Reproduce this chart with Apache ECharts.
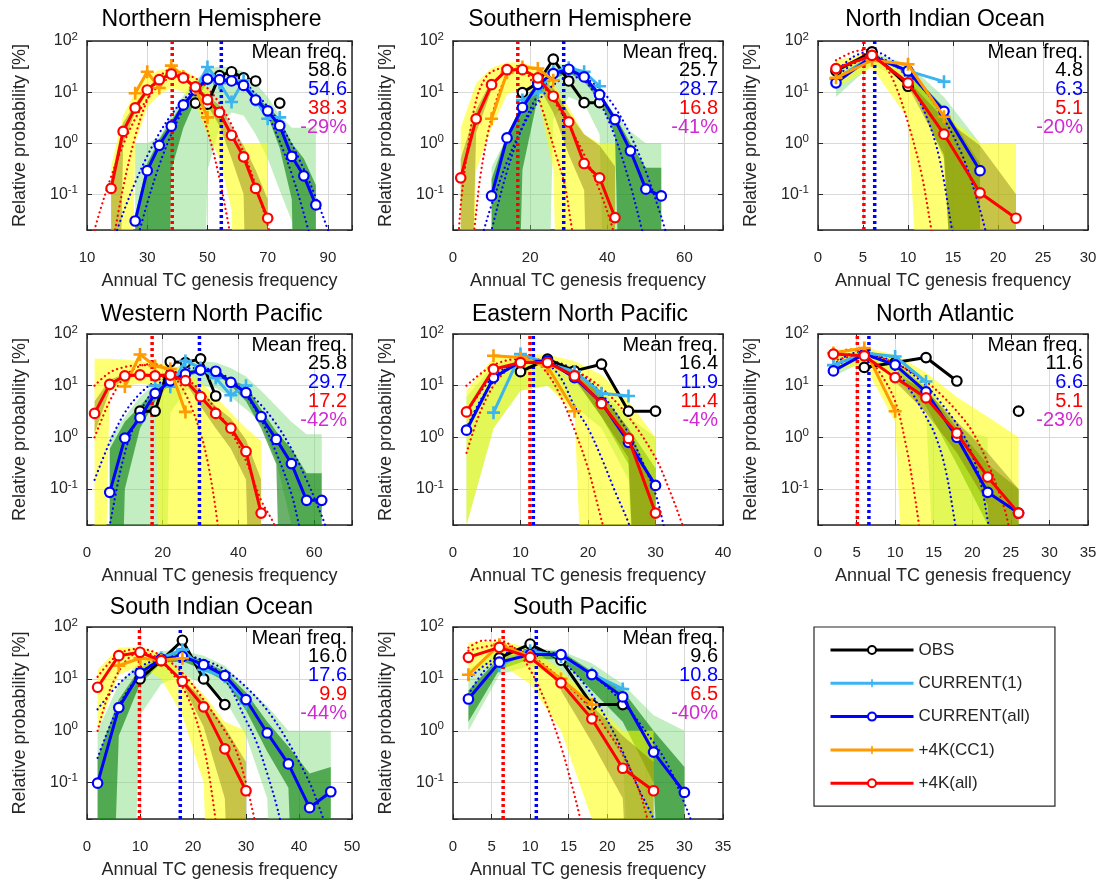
<!DOCTYPE html>
<html><head><meta charset="utf-8">
<script src="https://cdn.jsdelivr.net/npm/echarts@6/dist/echarts.min.js"></script>
<style>html,body{margin:0;padding:0;background:#fff}#c{width:1106px;height:884px}</style>
</head><body><div id="c"></div>
<script>
const n = null;
const Y_MIN = 0.02, Y_MAX = 100;
const SERIES_NAMES = ['OBS', 'CURRENT(1)', 'CURRENT(all)', '+4K(CC1)', '+4K(all)'];

// ---------- Northern Hemisphere ----------
const NH_x      = [18,22,26,30,34,38,42,46,50,54,58,62,66,70,74,78,82,86];
const NH_obs    = [n,n,n,n,n,n,n,6.1,5.8,21,25,19,16.5,n,6.1,n,n,n];
const NH_cur1   = [n,n,n,n,n,n,n,11,31,15,6.4,17,7,3.0,3.2,n,n,n];
const NH_curAll = [n,n,0.03,0.29,0.91,2.15,5.6,10.9,18,17.5,16.5,13.5,7,4.3,2.2,0.55,0.23,0.062];
const NH_cc1    = [n,n,9.5,25,12,33,20,12,3.2,n,n,n,n,n,n,n,n,n];
const NH_k4All  = [0.13,1.7,4.9,11,17.5,22.6,18.9,12.6,7.1,4.0,1.43,0.54,0.13,0.034,n,n,n,n];
const NH_y1Lo = [0,0,1.0,5,9,12,10,6,1.5,0.5,0.05,0,0,0,n,n,n,n];
const NH_y1Hi = [0.35,3.5,10,20,27,30,27,20,12,4.5,1.0,1.0,1.0,1.0,n,n,n,n];
const NH_y2Lo = [0,1.0,4,10,16.5,21,17.5,11.5,5.5,2.2,0.5,0.1,0,0,n,n,n,n];
const NH_y2Hi = [0.2,2.5,6,12,18.5,24,20,13.5,8.5,5.5,2.2,0.9,0.3,0.08,n,n,n,n];
const NH_g1Lo = [n,n,0,0,0,0,0,0,0.3,2,4,3.5,1.5,0.5,0.12,0.03,0,0];
const NH_g1Hi = [n,n,1.0,1.0,1.3,3.5,8.5,17,28,32,30,25,15,8,3.5,2.0,2.0,2.0];
const NH_g2Lo = [n,n,0,0,0,0.3,2,7,15,16,15,12.3,6.3,3.5,0.8,0.08,0,0];
const NH_g2Hi = [n,n,0.04,0.4,1.2,2.8,6.3,12,19.5,19,18,14.8,7.8,5.3,3,1.0,0.5,0.15];
const NH_dotRedN  = [[18,0.0072],[22,0.135],[26,1.35],[30,7.0],[34,19.3],[38,28],[42,21.2],[46,8.5],[50,1.8],[54,0.2],[58,0.0116],[62,0.0004]];
const NH_dotRedW  = [[10,0.0057],[14,0.041],[18,0.22],[22,0.93],[26,3.0],[30,7.3],[34,13.7],[38,19.9],[42,22],[46,18.6],[50,12],[54,6.0],[58,2.3],[62,0.66],[66,0.15],[70,0.025],[74,0.0033]];
const NH_dotBlueN = [[26,0.0092],[30,0.067],[34,0.37],[38,1.5],[42,4.6],[46,10.6],[50,18.2],[54,23.5],[58,22.7],[62,16.4],[66,8.8],[70,3.6],[74,1.08],[78,0.25],[82,0.042],[86,0.0054]];
const NH_dotBlueW = [[18,0.009],[22,0.043],[26,0.17],[30,0.56],[34,1.56],[38,3.6],[42,7.0],[46,11.5],[50,15.7],[54,18],[58,17.1],[62,13.7],[66,9.2],[70,5.2],[74,2.4],[78,0.95],[82,0.31],[86,0.086],[90,0.02],[94,0.0039]];
const NH_mean = [58.6, 54.6, 38.3];
const NH_change = -29;

// ---------- Southern Hemisphere ----------
const SH_x      = [2,6,10,14,18,22,26,30,34,38,42,46,50,54];
const SH_obs    = [n,n,n,n,9.8,15,44,16.5,6.2,6.2,n,n,n,n];
const SH_cur1   = [n,n,n,n,7,10,25,30,25,13,n,n,n,n];
const SH_curAll = [n,n,0.093,1.27,5.0,14.2,23,28,19.8,8.9,2.9,0.71,0.126,0.093];
const SH_cc1    = [n,n,3.0,24,31,29,17,n,n,n,n,n,n,n];
const SH_k4All  = [0.21,3.0,14,27.5,27.5,19,8.3,2.6,0.40,0.21,0.035,n,n,n];
const SH_y1Lo = [0,0.3,2,9,12,9,0.3,0,0,0,0,n,n,n];
const SH_y1Hi = [2,15,30,38,38,30,15,5,1.5,1.0,1.0,n,n,n];
const SH_y2Lo = [0,1.6,11,n,n,14,4,0.6,0.12,0,0,n,n,n];
const SH_y2Hi = [0.5,4.5,17,n,n,20,12,4,1.5,0.9,0.35,n,n,n];
const SH_g1Lo = [n,n,0,0,0,0,3,8,6,1.5,0,0,0,0];
const SH_g1Hi = [n,n,0.34,1.3,6.7,16.5,35,35,19,9,3.7,1.7,1.0,1.0];
const SH_g2Lo = [n,n,0,0,0.3,8,18,24,16,7,1.5,0,0,0];
const SH_g2Hi = [n,n,0.2,1.5,6,16,25,31,22,10,3.5,1.0,0.33,0.33];
const SH_dotRedN  = [[4.5,0.006],[5.5,0.02],[7,0.2],[9,1.5],[11,6],[13,15],[15,24],[17,28],[19,24],[21,13],[23,5],[25,1.6],[27,0.5],[29,0.15],[30.5,0.03],[31.5,0.01]];
const SH_dotRedW  = [[1,0.004],[2,0.06],[4,1.0],[6,6.9],[8,17],[10,25],[14,30],[18,28],[22,17],[26,7],[30,2.2],[34,0.6],[38,0.12],[41.5,0.02],[43,0.006]];
const SH_dotBlueN = [[9,0.0095],[10,0.02],[14,0.28],[18,2.1],[22,8.7],[26,19.9],[30,25],[34,17.1],[38,6.4],[42,1.33],[46,0.15],[49,0.02],[50,0.0095]];
const SH_dotBlueW = [[6,0.0059],[8,0.02],[10,0.062],[14,0.43],[18,2.05],[22,6.5],[26,13.7],[30,19.5],[34,18.5],[38,11.7],[42,5.0],[46,1.44],[50,0.28],[54,0.036],[56,0.011]];
const SH_mean = [25.7, 28.7, 16.8];
const SH_change = -41;

// ---------- North Indian Ocean ----------
const NIO_x      = [2,6,10,14,18,22];
const NIO_obs    = [26,61,13,n,n,n];
const NIO_cur1   = [18,50,26,16,n,n];
const NIO_curAll = [15.2,50,26,4.2,0.29,n];
const NIO_cc1    = [19,42,35,3.3,n,n];
const NIO_k4All  = [28.8,52.5,15.2,1.5,0.107,0.034];
const NIO_y1Lo = [12,30,3,0,0,0];
const NIO_y1Hi = [40,65,22,4,1.0,1.0];
const NIO_y2Lo = [n,n,13,0.6,0,0];
const NIO_y2Hi = [n,n,17,3,0.9,0.1];
const NIO_g1Lo = [8,35,15,1.5,0,n];
const NIO_g1Hi = [30,60,35,8,1.0,n];
const NIO_g2Lo = [n,n,20,0.5,0,n];
const NIO_g2Hi = [n,n,28,5,0.4,n];
const NIO_dotRedN  = [[2,42],[4,62],[5.5,66],[7,42],[8.5,15],[10,2.5],[11.5,0.25],[12.6,0.02],[13.2,0.005]];
const NIO_dotRedW  = [];
const NIO_dotBlueN = [[2,25],[4,50],[6,62],[8,45],[10,17],[12,3.5],[13.5,0.5],[14.9,0.02],[15.5,0.006]];
const NIO_dotBlueW = [[2,20],[6,50],[10,22],[12,10],[14,3],[16,0.6],[17.5,0.1],[18.6,0.02],[19.2,0.007]];
const NIO_mean = [4.8, 6.3, 5.1];
const NIO_change = -20;

// ---------- Western North Pacific ----------
const WNP_x      = [2,6,10,14,18,22,26,30,34,38,42,46,50,54,58,62];
const WNP_obs    = [n,n,n,3.2,3.2,29,28,33,6.3,n,n,n,n,n,n,n];
const WNP_cur1   = [n,n,n,n,10,9.5,30,22,14,6.5,10,n,n,n,n,n];
const WNP_curAll = [n,0.086,0.96,2.4,7.1,12.4,16.7,20,19,11.6,7.3,2.5,0.91,0.31,0.06,0.06];
const WNP_cc1    = [n,n,9.6,40,24,21,3.1,n,n,n,n,n,n,n,n,n];
const WNP_k4All  = [2.9,10.6,15.5,16.1,15.5,16,12.5,6.1,2.9,1.5,0.53,0.034,n,n,n,n];
const WNP_y1Lo = [0,8,10,11,10,0,0,0,0,0,0,0,n,n,n,n];
const WNP_y1Hi = [33,33,32,30,28,25,20,12,6,3,1.5,0.85,n,n,n,n];
const WNP_y2Lo = [1.2,8,14,15,14.5,15,11.5,4,1.5,0.6,0.15,0,n,n,n,n];
const WNP_y2Hi = [5,13,17,17.5,17,17.5,14,8,4,2.3,0.9,0.15,n,n,n,n];
const WNP_g1Lo = [n,0,0,0,0,3,8,10,9,6,3.5,1.9,0.35,0.02,0,0];
const WNP_g1Hi = [n,1.0,2.5,6,11,20,27,30,28,22,15,8,4,2,1.15,1.15];
const WNP_g2Lo = [n,0,0.1,1.5,5,11,15,18,17,10,5,1.5,0.3,0,0,0];
const WNP_g2Hi = [n,0.6,2,4,9,14,19,22,21,13,10,3.5,1.3,0.6,0.2,0.2];
const WNP_dotRedN  = [[2,1.0],[6,5],[10,15],[14,24],[18,26],[22,18],[26,7],[30,1.2],[32,0.3],[34,0.04],[35,0.01]];
const WNP_dotRedW  = [[2,10],[6,18],[10,23],[14,25],[18,24],[22,20],[26,14],[30,8],[34,3.5],[38,1.3],[42,0.35],[46,0.06],[49.5,0.02],[51,0.008]];
const WNP_dotBlueN = [[5,0.008],[6,0.02],[10,0.5],[14,3],[18,9],[22,16],[26,21],[30,22],[34,19],[38,13],[42,6.5],[46,2.2],[50,0.5],[54,0.08],[56,0.02],[57,0.01]];
const WNP_dotBlueW = [[2,0.15],[6,0.8],[10,3],[14,7],[18,12],[22,16],[26,18],[30,18],[34,16],[38,12],[42,8],[46,4.2],[50,1.8],[54,0.6],[58,0.15],[62,0.03],[64,0.012]];
const WNP_mean = [25.8, 29.7, 17.2];
const WNP_change = -42;

// ---------- Eastern North Pacific ----------
const ENP_x      = [2,6,10,14,18,22,26,30];
const ENP_obs    = [n,n,18.6,32.6,19.3,26,3.2,3.2];
const ENP_cur1   = [n,3.0,40.8,27,18.8,7.1,6.3,n];
const ENP_curAll = [1.37,14.3,29,30,14.3,4.7,0.8,0.117];
const ENP_cc1    = [n,37.8,35,23.5,3.2,n,n,n];
const ENP_k4All  = [3.1,20.8,28,28,15.4,4.5,0.95,0.034];
const ENP_y1Lo = [0.02,1.5,8,10,3,0,0,0];
const ENP_y1Hi = [8,35,40,40,30,16,5,1.0];
const ENP_y2Lo = [n,n,n,n,14,2.5,0.4,0];
const ENP_y2Hi = [n,n,n,n,17,7,1.5,0.1];
const ENP_g1Lo = [0.02,1.5,8,10,4,1.5,0.15,0];
const ENP_g1Hi = [6,25,35,35,22,8,2.5,1.0];
const ENP_g2Lo = [n,n,n,n,13,2.5,0.3,0];
const ENP_g2Hi = [n,n,n,n,16,7,1.5,0.25];
const ENP_dotRedN  = [[2,0.5],[4,3],[6,10],[8,20],[10,28],[12,28],[14,17],[16,6],[18,1.4],[20,0.25],[22,0.025],[23,0.008]];
const ENP_dotRedW  = [[2,10],[6,25],[10,33],[14,30],[18,20],[22,9],[26,2.5],[30,0.4],[32,0.1],[34,0.02],[35,0.008]];
const ENP_dotBlueN = [[2,1.5],[4,5],[6,12],[8,22],[10,28],[12,30],[14,26],[16,14],[18,4],[20,1.5],[22,0.4],[24,0.09],[26,0.022],[27,0.008]];
const ENP_dotBlueW = [[2,3],[6,15],[10,28],[14,30],[18,20],[22,7],[26,1.2],[28,0.35],[30,0.08],[31.2,0.02],[32,0.007]];
const ENP_mean = [16.4, 11.9, 11.4];
const ENP_change = -4;

// ---------- North Atlantic ----------
const NA_x      = [2,6,10,14,18,22,26];
const NA_obs    = [n,22.5,28,35,12.3,n,3.2];
const NA_cur1   = [25,42.7,36.7,12,n,n,n];
const NA_curAll = [19.3,40.8,25.3,7.6,1.0,0.086,0.034];
const NA_cc1    = [42.7,53.4,3.2,n,n,n,n];
const NA_k4All  = [40.8,37.8,14.3,5.8,1.2,0.17,0.034];
const NA_y1Lo = [20,25,2,0,0,0,0];
const NA_y1Hi = [50,55,40,18,6,2.5,1.0];
const NA_y2Lo = [n,n,12,3,0.5,0.05,0];
const NA_y2Hi = [n,n,17,8,2,0.5,0.1];
const NA_g1Lo = [15,30,15,3,0,0,n];
const NA_g1Hi = [35,50,35,12,1.5,1.0,n];
const NA_g2Lo = [n,n,22,4,0.3,0.02,0];
const NA_g2Hi = [n,n,29,9,1.5,0.3,0.1];
const NA_dotRedN  = [[2,38],[4,50],[6,40],[8,18],[10,5],[11.5,0.6],[12.5,0.08],[13.1,0.02],[13.5,0.008]];
const NA_dotRedW  = [[2,30],[6,40],[10,27],[14,12],[16,6.6],[18,3.2],[20,1.3],[22,0.32],[24,0.05],[24.7,0.02],[25.2,0.008]];
const NA_dotBlueN = [[2,25],[4,40],[6,45],[8,35],[10,20],[12,8],[14,2.5],[15.2,1.1],[16.5,0.25],[17.8,0.02],[18.3,0.006]];
const NA_dotBlueW = [[2,22],[6,40],[10,28],[14,10],[16,4.5],[18,1.8],[19.5,0.7],[21,0.15],[22.1,0.02],[22.6,0.007]];
const NA_mean = [11.6, 6.6, 5.1];
const NA_change = -23;

// ---------- South Indian Ocean ----------
const SIO_x      = [2,6,10,14,18,22,26,30,34,38,42,46];
const SIO_obs    = [n,n,10,22.5,55.5,10,3.2,n,n,n,n,n];
const SIO_cur1   = [n,n,n,25.3,36.6,15,11,3.4,n,n,n,n];
const SIO_curAll = [0.098,2.8,13,24.2,27,18.8,11.6,4.0,0.91,0.23,0.033,0.067];
const SIO_cc1    = [n,18,25,23,25,n,n,n,n,n,n,n];
const SIO_k4All  = [6.9,28,32.6,22.5,9.0,2.9,0.45,0.07,n,n,n,n];
const SIO_y1Lo = [1.0,12,18,10,2,0.1,0,0,n,n,n,n];
const SIO_y1Hi = [15,40,42,30,14,5,1.5,1.0,n,n,n,n];
const SIO_y2Lo = [n,n,n,n,8,1.2,0.05,0,n,n,n,n];
const SIO_y2Hi = [n,n,n,n,10,4,1.2,0.25,n,n,n,n];
const SIO_g1Lo = [0,0,2,8,12,8,4,0.8,0.05,0,0,0];
const SIO_g1Hi = [1.0,8,22,35,35,28,18,7,3,1.0,1.0,1.0];
const SIO_g2Lo = [0,0.8,8,20,22,15,9,2.5,0.4,0.08,0,0];
const SIO_g2Hi = [0.3,4,16,28,32,22,14,5.5,1.5,0.5,0.15,0.2];
const SIO_dotRedN  = [[2,1.0],[4,5],[6,14],[8,26],[10,32],[12,30],[14,22],[16,13],[18,7],[20,2.5],[22,0.5],[23,0.15],[24,0.03],[24.5,0.012]];
const SIO_dotRedW  = [[2,11],[6,30],[10,38],[14,28],[18,13],[22,4],[26,1.0],[28,0.45],[30,0.1],[31.6,0.02],[32.3,0.009]];
const SIO_dotBlueN = [[2,0.3],[6,3],[10,12],[14,24],[18,28],[22,22],[26,10],[30,1.6],[32,0.6],[34,0.15],[36,0.03],[37,0.01]];
const SIO_dotBlueW = [[2,2.6],[6,8],[10,17],[14,25],[18,27],[22,23],[26,15],[30,7],[34,2.5],[38,0.6],[42,0.1],[44,0.03],[45,0.015]];
const SIO_mean = [16.0, 17.6, 9.9];
const SIO_change = -44;

// ---------- South Pacific ----------
const SP_x      = [2,6,10,14,18,22,26,30];
const SP_obs    = [n,25.5,47,22.9,3.2,3.2,n,n];
const SP_cur1   = [n,18,35,27,12.5,6.4,n,n];
const SP_curAll = [4.1,21,29.4,29.4,12.1,4.5,0.39,0.065];
const SP_cc1    = [12,45.7,27,10,3.2,n,n,n];
const SP_k4All  = [26.1,40.6,26,8.4,1.7,0.19,0.07,n];
const SP_y1Lo = [13,20,8,1.0,0.02,0,0,n];
const SP_y1Hi = [50,55,40,15,4,1.0,1.0,n];
const SP_y2Lo = [n,n,n,6,0.6,0.05,0,n];
const SP_y2Hi = [n,n,n,10,3,0.8,0.25,n];
const SP_g1Lo = [1.0,12,18,10,3,0.3,0,0];
const SP_g1Hi = [15,40,40,35,20,8,2,1.0];
const SP_g2Lo = [1.5,15,24,24,6,1.5,0.1,0];
const SP_g2Hi = [6,26,34,34,14,6,1.0,0.2];
const SP_dotRedN  = [[2,40],[4,55],[6,55],[8,38],[10,15],[12,3.5],[14,0.5],[15.5,0.08],[16.5,0.02],[17,0.008]];
const SP_dotRedW  = [[2,35],[6,45],[10,28],[14,10],[18,2.5],[20,1.0],[22,0.35],[24,0.08],[25.2,0.02],[25.8,0.008]];
const SP_dotBlueN = [[2,5],[4,14],[6,25],[8,34],[10,36],[12,32],[14,22],[16,12],[18,5],[20,1.6],[22,0.4],[24,0.08],[26,0.02],[26.5,0.01]];
const SP_dotBlueW = [[2,10],[6,28],[10,36],[14,28],[18,12],[22,3.5],[26,0.6],[28,0.2],[30,0.04],[30.8,0.02],[31.3,0.01]];
const SP_mean = [9.6, 10.8, 6.5];
const SP_change = -40;

// ---------- assembly ----------
const PANELS = [
  {title:'Northern Hemisphere', x:NH_x, obs:NH_obs, cur1:NH_cur1, curAll:NH_curAll, cc1:NH_cc1, k4:NH_k4All,
   g1:[NH_g1Lo,NH_g1Hi], g2:[NH_g2Lo,NH_g2Hi], y1:[NH_y1Lo,NH_y1Hi], y2:[NH_y2Lo,NH_y2Hi],
   dots:[NH_dotBlueN,NH_dotBlueW,NH_dotRedN,NH_dotRedW], mean:NH_mean, change:NH_change, axis:[10,98,20,false]},
  {title:'Southern Hemisphere', x:SH_x, obs:SH_obs, cur1:SH_cur1, curAll:SH_curAll, cc1:SH_cc1, k4:SH_k4All,
   g1:[SH_g1Lo,SH_g1Hi], g2:[SH_g2Lo,SH_g2Hi], y1:[SH_y1Lo,SH_y1Hi], y2:[SH_y2Lo,SH_y2Hi],
   dots:[SH_dotBlueN,SH_dotBlueW,SH_dotRedN,SH_dotRedW], mean:SH_mean, change:SH_change, axis:[0,70,20,false]},
  {title:'North Indian Ocean', x:NIO_x, obs:NIO_obs, cur1:NIO_cur1, curAll:NIO_curAll, cc1:NIO_cc1, k4:NIO_k4All,
   g1:[NIO_g1Lo,NIO_g1Hi], g2:[NIO_g2Lo,NIO_g2Hi], y1:[NIO_y1Lo,NIO_y1Hi], y2:[NIO_y2Lo,NIO_y2Hi],
   dots:[NIO_dotBlueN,NIO_dotBlueW,NIO_dotRedN,NIO_dotRedW], mean:NIO_mean, change:NIO_change, axis:[0,30,5,true]},
  {title:'Western North Pacific', x:WNP_x, obs:WNP_obs, cur1:WNP_cur1, curAll:WNP_curAll, cc1:WNP_cc1, k4:WNP_k4All,
   g1:[WNP_g1Lo,WNP_g1Hi], g2:[WNP_g2Lo,WNP_g2Hi], y1:[WNP_y1Lo,WNP_y1Hi], y2:[WNP_y2Lo,WNP_y2Hi],
   dots:[WNP_dotBlueN,WNP_dotBlueW,WNP_dotRedN,WNP_dotRedW], mean:WNP_mean, change:WNP_change, axis:[0,70,20,false]},
  {title:'Eastern North Pacific', x:ENP_x, obs:ENP_obs, cur1:ENP_cur1, curAll:ENP_curAll, cc1:ENP_cc1, k4:ENP_k4All,
   g1:[ENP_g1Lo,ENP_g1Hi], g2:[ENP_g2Lo,ENP_g2Hi], y1:[ENP_y1Lo,ENP_y1Hi], y2:[ENP_y2Lo,ENP_y2Hi],
   dots:[ENP_dotBlueN,ENP_dotBlueW,ENP_dotRedN,ENP_dotRedW], mean:ENP_mean, change:ENP_change, axis:[0,40,10,true]},
  {title:'North Atlantic', x:NA_x, obs:NA_obs, cur1:NA_cur1, curAll:NA_curAll, cc1:NA_cc1, k4:NA_k4All,
   g1:[NA_g1Lo,NA_g1Hi], g2:[NA_g2Lo,NA_g2Hi], y1:[NA_y1Lo,NA_y1Hi], y2:[NA_y2Lo,NA_y2Hi],
   dots:[NA_dotBlueN,NA_dotBlueW,NA_dotRedN,NA_dotRedW], mean:NA_mean, change:NA_change, axis:[0,35,5,true]},
  {title:'South Indian Ocean', x:SIO_x, obs:SIO_obs, cur1:SIO_cur1, curAll:SIO_curAll, cc1:SIO_cc1, k4:SIO_k4All,
   g1:[SIO_g1Lo,SIO_g1Hi], g2:[SIO_g2Lo,SIO_g2Hi], y1:[SIO_y1Lo,SIO_y1Hi], y2:[SIO_y2Lo,SIO_y2Hi],
   dots:[SIO_dotBlueN,SIO_dotBlueW,SIO_dotRedN,SIO_dotRedW], mean:SIO_mean, change:SIO_change, axis:[0,50,10,true]},
  {title:'South Pacific', x:SP_x, obs:SP_obs, cur1:SP_cur1, curAll:SP_curAll, cc1:SP_cc1, k4:SP_k4All,
   g1:[SP_g1Lo,SP_g1Hi], g2:[SP_g2Lo,SP_g2Hi], y1:[SP_y1Lo,SP_y1Hi], y2:[SP_y2Lo,SP_y2Hi],
   dots:[SP_dotBlueN,SP_dotBlueW,SP_dotRedN,SP_dotRedW], mean:SP_mean, change:SP_change, axis:[0,35,5,true]}
];

const FONT = "'Liberation Sans', Arial, Helvetica, sans-serif";
const INK = '#262626';
const C_OBS = '#000000', C_CUR1 = '#3cb4f0', C_CUR = '#0000ff', C_CC1 = '#ff9a00', C_K4 = '#ff0000', C_CHG = '#d22ad2';
const BAND_G1 = 'rgba(110,215,110,0.42)', BAND_G2 = 'rgba(0,120,0,0.58)';
const BAND_Y1 = 'rgba(255,255,0,0.55)', BAND_Y2 = 'rgba(110,100,0,0.38)';
const PLUS = 'path://M4,0H6V4H10V6H6V10H4V6H0V4H4Z';
const ZERO = 1e-12;

const COL_LEFT = [87, 453, 818], COL_W = [265, 270, 270];
const ROW_TOP = [41, 334, 627], ROW_H = [189, 191, 192];

function clipBottom(pts, yb) {
  const out = [];
  for (let i = 0; i < pts.length; i++) {
    const a = pts[i], b = pts[(i + 1) % pts.length];
    const ain = a[1] <= yb, bin = b[1] <= yb;
    if (ain) out.push(a);
    if (ain !== bin) {
      const t = (yb - a[1]) / (b[1] - a[1]);
      out.push([a[0] + t * (b[0] - a[0]), yb]);
    }
  }
  return out;
}

function bandSeries(ai, xs, lo, hi, color) {
  return {
    type: 'custom', xAxisIndex: ai, yAxisIndex: ai, silent: true, z: 1,
    data: [[xs[0], 1]],
    renderItem: function (params, api) {
      const cs = params.coordSys;
      const yb = cs.y + cs.height;
      const segs = []; let cur = [];
      for (let i = 0; i < xs.length; i++) {
        if (lo[i] == null || hi[i] == null) { if (cur.length) segs.push(cur); cur = []; }
        else cur.push(i);
      }
      if (cur.length) segs.push(cur);
      const children = [];
      segs.forEach(s => {
        if (s.length < 2) return;
        const pts = [];
        s.forEach(i => pts.push(api.coord([xs[i], hi[i] > 0 ? hi[i] : ZERO])));
        s.slice().reverse().forEach(i => pts.push(api.coord([xs[i], lo[i] > 0 ? lo[i] : ZERO])));
        const cl = clipBottom(pts, yb);
        if (cl.length > 2) children.push({type: 'polygon', shape: {points: cl}, style: {fill: color}});
      });
      return {type: 'group', children};
    }
  };
}

function lineSeries(ai, name, xs, ys, color, plus, z) {
  return {
    type: 'line', name, xAxisIndex: ai, yAxisIndex: ai, z,
    data: xs.map((x, k) => [x, ys[k] == null ? '-' : ys[k]]),
    connectNulls: false, showAllSymbol: true,
    symbol: plus ? PLUS : 'circle', symbolSize: plus ? 13 : 9.5,
    lineStyle: {color, width: 3},
    itemStyle: plus ? {color, borderWidth: 0} : {color: '#fff', borderColor: color, borderWidth: 2.2},
    emphasis: {disabled: true}, silent: true
  };
}

function dotSeries(ai, pts, color) {
  return {
    type: 'line', xAxisIndex: ai, yAxisIndex: ai, z: 3, silent: true,
    data: pts, smooth: 0.35, symbol: 'none',
    lineStyle: {color, width: 2.2, type: [0.1, 4.6], cap: 'round'}
  };
}

function vSeries(ai, m, color) {
  return {
    type: 'line', xAxisIndex: ai, yAxisIndex: ai, z: 4, silent: true,
    data: [[m, Y_MIN], [m, Y_MAX]], symbol: 'none',
    lineStyle: {color, width: 3.5, type: [3, 3]}
  };
}

function yFmt(v) {
  const e = Math.log10(v), r = Math.round(e);
  if (Math.abs(e - r) > 1e-6) return '';
  return '10{s|' + r + '}';
}

const grids = [], xAxes = [], yAxes = [], series = [], graphics = [];
PANELS.forEach((p, i) => {
  const r = Math.floor(i / 3), c = i % 3;
  const L = COL_LEFT[c], T = ROW_TOP[r], W = COL_W[c], H = ROW_H[r];
  grids.push({left: L, top: T, width: W, height: H, containLabel: false});
  const [xmin, xmax, xint, showMax] = p.axis;
  const tick = {show: true, inside: true, length: 5, lineStyle: {color: INK, width: 1}};
  const line = {show: true, onZero: false, lineStyle: {color: INK, width: 1.5}};
  const xFmt = v => ((!showMax && v > xmax - 1e-9) || (v - xmin) % xint > 1e-9 ? '' : String(v));
  xAxes.push({gridIndex: i, type: 'value', position: 'bottom', min: xmin, max: xmax, interval: xint,
    axisLine: line, axisTick: tick,
    axisLabel: {fontSize: 15, color: INK, fontFamily: FONT, margin: 20, formatter: xFmt},
    splitLine: {show: true, lineStyle: {color: '#d9d9d9', width: 1}},
    name: 'Annual TC genesis frequency', nameLocation: 'middle', nameGap: 42,
    nameTextStyle: {fontSize: 18, color: INK, fontFamily: FONT}});
  xAxes.push({gridIndex: i, type: 'value', position: 'top', min: xmin, max: xmax, interval: xint,
    axisLine: line, axisTick: tick, axisLabel: {show: false}, splitLine: {show: false}});
  yAxes.push({gridIndex: i, type: 'log', logBase: 10, min: Y_MIN, max: Y_MAX, position: 'left',
    axisLine: line, axisTick: tick,
    axisLabel: {fontSize: 16, color: INK, fontFamily: FONT, margin: 9, formatter: yFmt,
      rich: {s: {fontSize: 11.5, color: INK, fontFamily: FONT, padding: [0, 0, 9, 0]}}},
    splitLine: {show: true, lineStyle: {color: '#d9d9d9', width: 1}},
    name: 'Relative probability [%]', nameLocation: 'middle', nameGap: 58,
    nameTextStyle: {fontSize: 18, color: INK, fontFamily: FONT}});
  yAxes.push({gridIndex: i, type: 'log', logBase: 10, min: Y_MIN, max: Y_MAX, position: 'right',
    axisLine: line, axisTick: tick, axisLabel: {show: false}, splitLine: {show: false}});

  const ai = 2 * i;
  series.push(bandSeries(ai, p.x, p.g1[0], p.g1[1], BAND_G1));
  series.push(bandSeries(ai, p.x, p.g2[0], p.g2[1], BAND_G2));
  series.push(bandSeries(ai, p.x, p.y1[0], p.y1[1], BAND_Y1));
  series.push(bandSeries(ai, p.x, p.y2[0], p.y2[1], BAND_Y2));
  series.push(dotSeries(ai, p.dots[0], C_CUR));
  series.push(dotSeries(ai, p.dots[1], C_CUR));
  series.push(dotSeries(ai, p.dots[2], C_K4));
  series.push(dotSeries(ai, p.dots[3], C_K4));
  series.push(vSeries(ai, p.mean[1], C_CUR));
  series.push(vSeries(ai, p.mean[2], C_K4));
  series.push(lineSeries(ai, SERIES_NAMES[0], p.x, p.obs, C_OBS, false, 5));
  series.push(lineSeries(ai, SERIES_NAMES[1], p.x, p.cur1, C_CUR1, true, 6));
  series.push(lineSeries(ai, SERIES_NAMES[2], p.x, p.curAll, C_CUR, false, 7));
  series.push(lineSeries(ai, SERIES_NAMES[3], p.x, p.cc1, C_CC1, true, 8));
  series.push(lineSeries(ai, SERIES_NAMES[4], p.x, p.k4, C_K4, false, 9));

  const titleY = [20, 315, 608][r];
  graphics.push({type: 'text', x: L + W / 2 - 8, y: titleY, z: 100,
    style: {text: p.title, fill: '#000', fontSize: 23, fontFamily: FONT, align: 'center', verticalAlign: 'middle'}});
  const texts = ['Mean freq.', p.mean[0].toFixed(1), p.mean[1].toFixed(1), p.mean[2].toFixed(1), p.change + '%'];
  const cols = ['#000', '#000', C_CUR, C_K4, C_CHG];
  texts.forEach((t, k) => graphics.push({type: 'text', x: L + W - 5, y: T + 11 + k * 18.9, z: 100,
    style: {text: t, fill: cols[k], fontSize: 20, fontFamily: FONT, align: 'right', verticalAlign: 'middle'}}));
});

const chart = echarts.init(document.getElementById('c'), null, {renderer: 'canvas'});
chart.setOption({
  animation: false,
  backgroundColor: '#fff',
  textStyle: {fontFamily: FONT},
  grid: grids, xAxis: xAxes, yAxis: yAxes, series,
  legend: {data: SERIES_NAMES, orient: 'vertical', left: 814, top: 627, itemWidth: 83, itemHeight: 10,
    itemGap: 16.3, padding: [14.5, 25, 14.5, 15], borderColor: INK, borderWidth: 1.2, selectedMode: false,
    lineStyle: {width: 3},
    textStyle: {fontSize: 17, color: INK, fontFamily: FONT}},
  graphic: graphics
});
</script>
</body></html>
